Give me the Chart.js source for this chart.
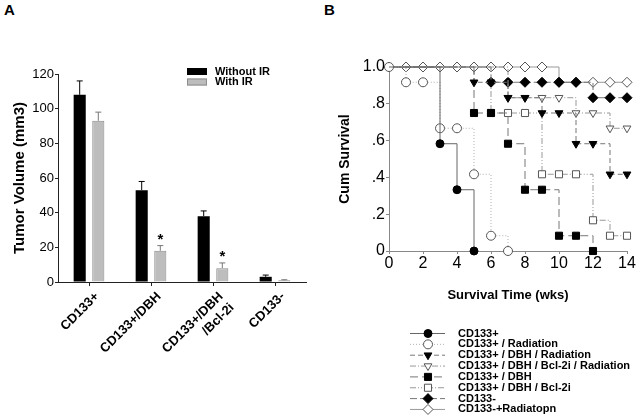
<!DOCTYPE html>
<html>
<head>
<meta charset="utf-8">
<script src="https://cdn.jsdelivr.net/npm/chart.js@4/dist/chart.umd.min.js"></script>
<style>
body{margin:0;background:#fff;width:638px;height:415px;position:relative;overflow:hidden;font-family:"Liberation Sans",Arial,sans-serif}
canvas{position:absolute;top:0}
#chartA{left:0}
#chartB{left:319px}
.panel{position:absolute;top:1px;font-weight:bold;font-size:15px}
</style>
</head>
<body>
<div class="panel" style="left:4px">A</div>
<div class="panel" style="left:324px">B</div>
<canvas id="chartA" width="319" height="415"></canvas>
<canvas id="chartB" width="319" height="415"></canvas>
<script>
// ---- panel A data
const groups = ['CD133+', 'CD133+/DBH', ['CD133+/DBH', '/Bcl-2i'], 'CD133-']
const withoutIR = [108, 53, 38, 3]
const withoutIRErr = [8, 5, 3, 1]
const withIR = [93, 18, 8, 1]
const withIRErr = [5, 3, 3, 0.3]
const starred = [false, true, true, false]
const volumeTicks = [0, 20, 40, 60, 80, 100, 120]

// ---- panel B data
const weeks = [0, 1, 2, 3, 4, 5, 6, 7, 8, 9, 10, 11, 12, 13, 14]
const cd133 = [1, 1, 1, 0.583, 0.333, 0]
const cd133Rad = [1, 0.917, 0.917, 0.667, 0.667, 0.417, 0.083, 0]
const dbhRad = [1, 1, 1, 1, 1, 0.917, 0.917, 0.833, 0.833, 0.75, 0.75, 0.583, 0.583, 0.417, 0.417]
const bclRad = [1, 1, 1, 1, 1, 1, 1, 0.833, 0.833, 0.833, 0.833, 0.75, 0.75, 0.667, 0.667]
const dbh = [1, 1, 1, 1, 1, 0.75, 0.75, 0.583, 0.333, 0.333, 0.083, 0.083, 0]
const dbhBcl = [1, 1, 1, 1, 1, 1, 0.75, 0.75, 0.75, 0.417, 0.417, 0.417, 0.167, 0.083, 0.083]
const cd133Neg = [1, 1, 1, 1, 1, 1, 0.917, 0.917, 0.917, 0.917, 0.917, 0.917, 0.833, 0.833, 0.833]
const cd133NegRad = [1, 1, 1, 1, 1, 1, 1, 1, 1, 1, 0.917, 0.917, 0.917, 0.917, 0.917]
const survivalTicks = ['0', '.2', '.4', '.6', '.8', '1.0']
const seriesLabels = ['CD133+', 'CD133+ / Radiation', 'CD133+ / DBH / Radiation', 'CD133+ / DBH / Bcl-2i / Radiation',
    'CD133+ / DBH', 'CD133+ / DBH / Bcl-2i', 'CD133-', 'CD133-+Radiatopn']

const FONT = '"Liberation Sans", Arial, sans-serif'
Chart.defaults.font.family = FONT
Chart.defaults.color = '#000'

// error bars + stars + legend for A
const barExtras = {
    id: 'barExtras',
    afterDatasetsDraw(chart) {
        const ctx = chart.ctx
        const ys = chart.scales.y
        ctx.save()
        chart.data.datasets.forEach((ds, di) => {
            const meta = chart.getDatasetMeta(di)
            meta.data.forEach((bar, i) => {
                const top = ys.getPixelForValue(ds.data[i] + ds.errors[i])
                ctx.strokeStyle = ds.errColor
                ctx.lineWidth = 1
                ctx.beginPath()
                ctx.moveTo(bar.x, bar.y)
                ctx.lineTo(bar.x, top)
                ctx.moveTo(bar.x - 3, top)
                ctx.lineTo(bar.x + 3, top)
                ctx.stroke()
                if (ds.stars && ds.stars[i]) {
                    ctx.fillStyle = '#000'
                    ctx.font = 'bold 15px ' + FONT
                    ctx.textAlign = 'center'
                    ctx.textBaseline = 'alphabetic'
                    ctx.fillText('*', bar.x, top - 2)
                }
            })
        })
        // legend
        ctx.font = 'bold 11px ' + FONT
        ctx.textAlign = 'left'
        ctx.textBaseline = 'middle'
        chart.data.datasets.forEach((ds, di) => {
            const y = 71.5 + di * 10.5
            ctx.fillStyle = ds.backgroundColor
            ctx.fillRect(187, y - 3.5, 20, 7)
            ctx.strokeStyle = ds.borderColor
            ctx.strokeRect(187.5, y - 3, 19, 6)
            ctx.fillStyle = '#000'
            ctx.fillText(ds.label, 215, y)
        })
        ctx.restore()
    }
}

new Chart(document.getElementById('chartA'), {
    type: 'bar',
    data: {
        labels: groups,
        datasets: [
            {label: 'Without IR', data: withoutIR, errors: withoutIRErr, errColor: '#000',
                backgroundColor: '#000', borderColor: '#000', borderWidth: 0},
            {label: 'With IR', data: withIR, errors: withIRErr, errColor: '#777', stars: starred,
                backgroundColor: '#bdbdbd', borderColor: '#8c8c8c', borderWidth: 1}
        ]
    },
    options: {
        responsive: false,
        animation: false,
        categoryPercentage: 0.6,
        barPercentage: 0.65,
        layout: {padding: {top: 74, right: 13, left: 0, bottom: 0}},
        plugins: {legend: {display: false}, tooltip: {enabled: false}},
        scales: {
            x: {
                afterFit: s => { s.height = 133 },
                grid: {display: true, drawOnChartArea: false, offset: false, tickLength: 4, color: '#222'},
                border: {color: '#222'},
                ticks: {minRotation: 45, maxRotation: 45, padding: 3, labelOffset: 8, font: {size: 13, weight: 'bold'}}
            },
            y: {
                min: 0, max: 120,
                afterFit: s => { s.width = 58 },
                afterBuildTicks: s => { s.ticks = volumeTicks.map(v => ({value: v})) },
                grid: {drawOnChartArea: false, tickLength: 3, color: '#222'},
                border: {color: '#222'},
                ticks: {padding: 1, font: {size: 13}},
                title: {display: true, text: 'Tumor Volume (mm3)', font: {size: 15, weight: 'bold'}, padding: {top: 11, bottom: 0}}
            }
        }
    },
    plugins: [barExtras]
})

// ---- panel B
const styles = [
    {color: '#666', dash: [], shape: 'circle', fill: '#000', r: 4, rot: 0, top: false},
    {color: '#b0b0b0', dash: [1, 2], shape: 'circle', fill: '#fff', r: 4.5, rot: 0, top: true},
    {color: '#777', dash: [5, 3], shape: 'triangle', fill: '#000', r: 4.5, rot: 180, top: false},
    {color: '#999', dash: [6, 2, 1, 2], shape: 'triangle', fill: '#fff', r: 4.5, rot: 180, top: false},
    {color: '#777', dash: [8, 4], shape: 'rect', fill: '#000', r: 5, rot: 0, top: false},
    {color: '#999', dash: [6, 2, 1, 2, 1, 2], shape: 'rect', fill: '#fff', r: 5, rot: 0, top: false},
    {color: '#777', dash: [7, 3], shape: 'rectRot', fill: '#000', r: 5, rot: 0, top: false},
    {color: '#999', dash: [], shape: 'rectRot', fill: '#fff', r: 5, rot: 0, top: true}
]
const curves = [cd133, cd133Rad, dbhRad, bclRad, dbh, dbhBcl, cd133Neg, cd133NegRad]

const survSets = curves.map((c, i) => {
    const st = styles[i]
    return {
        label: seriesLabels[i],
        data: c.map((v, k) => ({x: weeks[k], y: v})),
        stepped: 'before',
        borderColor: st.color,
        borderWidth: 1,
        borderDash: st.dash,
        pointStyle: st.shape,
        pointRotation: st.rot,
        pointBackgroundColor: st.fill,
        pointBorderColor: st.fill === '#000' ? '#000' : '#555',
        pointBorderWidth: 1,
        pointRadius: ctx => (ctx.raw && ctx.raw.y === 1 && !st.top) ? 0 : st.r,
        legendRadius: st.r,
        clip: false,
        fill: false
    }
})

const legendB = {
    id: 'legendB',
    afterDraw(chart) {
        const ctx = chart.ctx
        ctx.save()
        chart.data.datasets.forEach((ds, i) => {
            const y = 333.5 + i * 10.85
            ctx.strokeStyle = ds.borderColor
            ctx.lineWidth = 1
            ctx.setLineDash(ds.borderDash)
            ctx.beginPath()
            ctx.moveTo(91, y)
            ctx.lineTo(126, y)
            ctx.stroke()
            ctx.setLineDash([])
            ctx.fillStyle = ds.pointBackgroundColor
            ctx.strokeStyle = ds.pointBorderColor
            Chart.helpers.drawPoint(ctx, {pointStyle: ds.pointStyle, radius: ds.legendRadius, rotation: ds.pointRotation, borderWidth: 1}, 109, y)
            ctx.fillStyle = '#000'
            ctx.font = 'bold 11px ' + FONT
            ctx.textAlign = 'left'
            ctx.textBaseline = 'middle'
            ctx.fillText(ds.label, 139, y)
        })
        ctx.restore()
    }
}

new Chart(document.getElementById('chartB'), {
    type: 'line',
    data: {datasets: survSets},
    options: {
        responsive: false,
        animation: false,
        layout: {padding: {top: 67, right: 11, left: 0, bottom: 0}},
        plugins: {legend: {display: false}, tooltip: {enabled: false}},
        scales: {
            x: {
                type: 'linear', min: 0, max: 14,
                afterFit: s => { s.height = 164 },
                grid: {drawOnChartArea: false, tickLength: 3, color: '#888'},
                border: {color: '#888'},
                ticks: {stepSize: 2, padding: 0, font: {size: 16}},
                title: {display: true, text: 'Survival Time (wks)', font: {size: 13, weight: 'bold'}, padding: {top: 0, bottom: 112}}
            },
            y: {
                min: 0, max: 1,
                afterFit: s => { s.width = 70 },
                grid: {drawOnChartArea: false, tickLength: 3, color: '#888'},
                border: {color: '#888'},
                ticks: {stepSize: 0.2, padding: 1, font: {size: 16}, callback: (v, i) => survivalTicks[i]},
                title: {display: true, text: 'Cum Survival', font: {size: 14, weight: 'bold'}, padding: {top: 18, bottom: 0}}
            }
        }
    },
    plugins: [legendB]
})
</script>
</body>
</html>
